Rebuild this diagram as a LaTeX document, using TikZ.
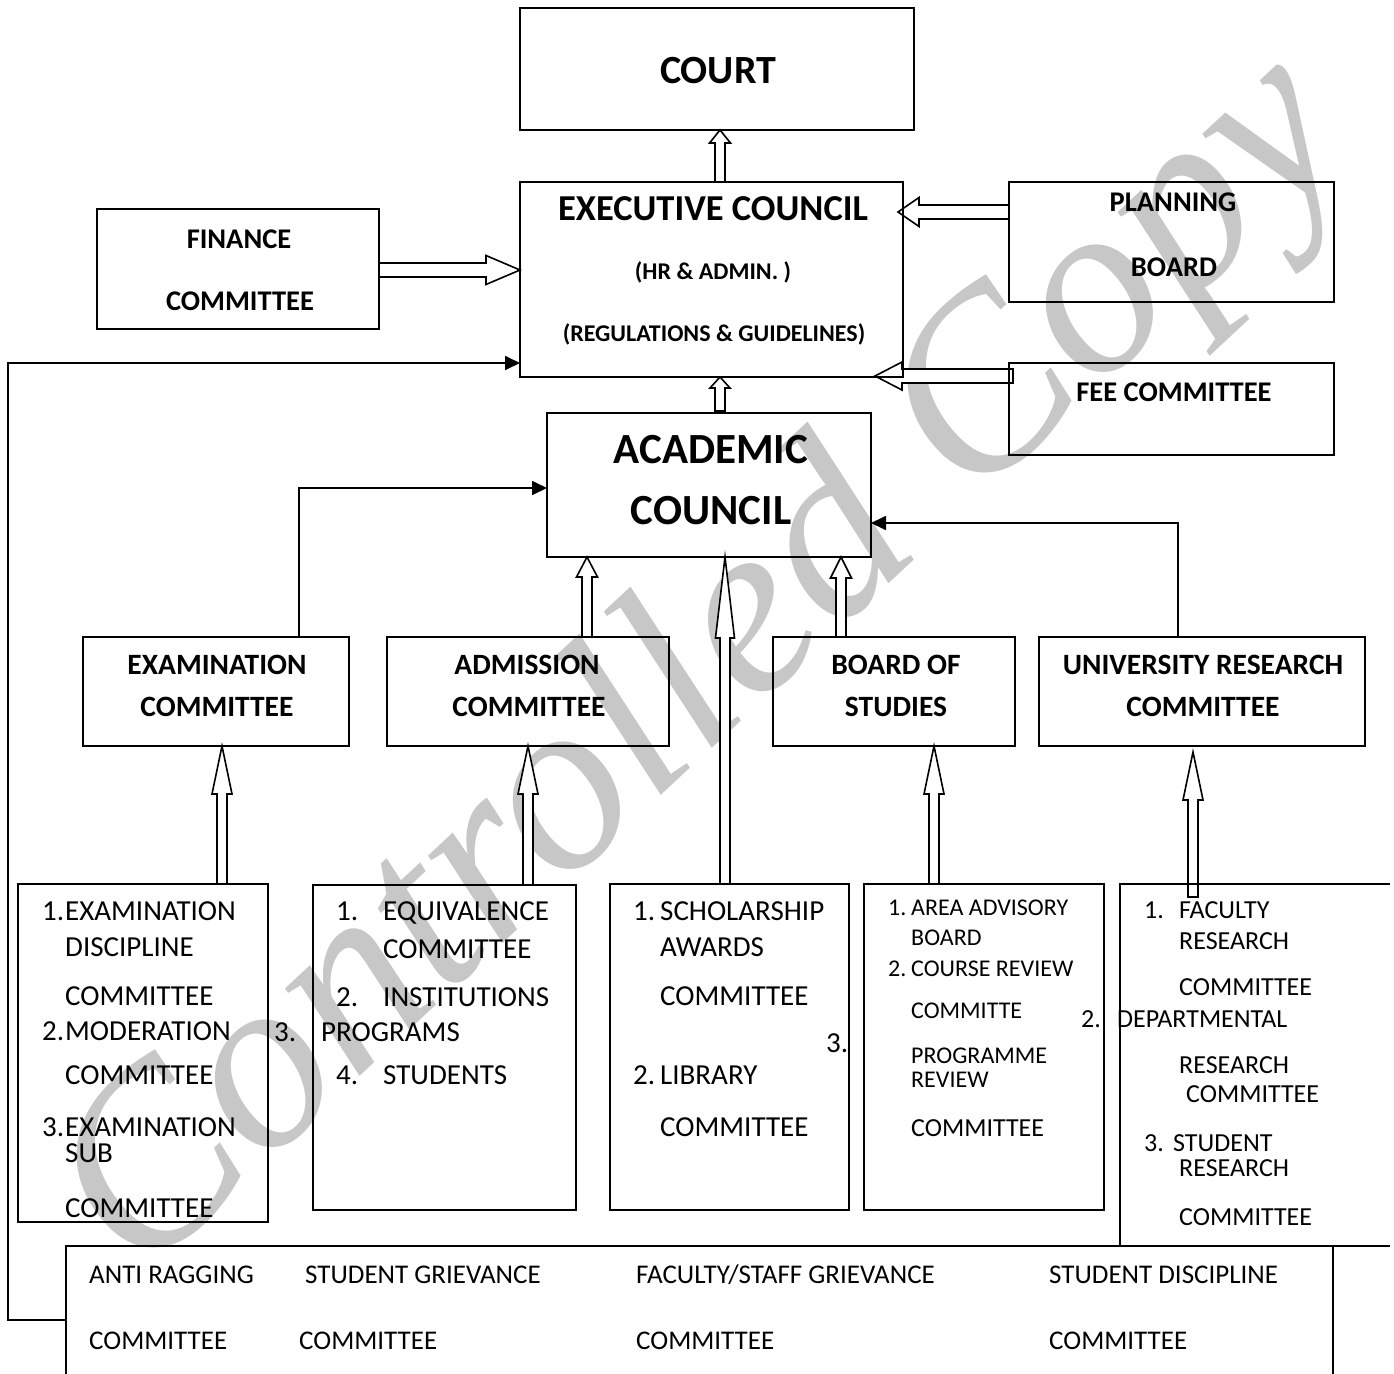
\documentclass[tikz,border=0pt]{standalone}
\usepackage{fontspec}
\setmainfont{Carlito}
\newfontfamily\markfont{Liberation Serif}
\usetikzlibrary{arrows.meta,calc}
\pgfdeclarelayer{back}
\pgfsetlayers{back,main}
\newcommand{\fs}[1]{\fontsize{#1}{#1}\selectfont}
% hollow block arrow: tail, tip, head length, head half width, shaft half width
\newcommand{\blockarrow}[5]{%
  \path ($#2!#3!#1$) coordinate (ba-base);
  \draw[blk] ($#1!#5!90:#2$) -- ($(ba-base)!#5!90:#2$) -- ($(ba-base)!#4!90:#2$) -- #2
    -- ($(ba-base)!#4!-90:#2$) -- ($(ba-base)!#5!-90:#2$) -- ($#1!#5!-90:#2$) -- cycle;}
\tikzset{
  box/.style={draw, line width=1.8pt, inner sep=0pt, outer sep=0pt, rectangle},
  frame/.style={inner sep=0pt, outer sep=0pt, rectangle},
  edge/.style={line width=1.8pt},
  blk/.style={draw, fill=white, line width=1.6pt, line join=miter},
  link/.style={draw, line width=1.8pt, -{Triangle[length=15pt,width=14pt]}},
  tl/.style={inner sep=0pt, anchor=base west},
  tc/.style={inner sep=0pt, anchor=base},
  wm/.style={inner sep=0pt, text=black!22, font=\markfont\itshape\fs{250}},
}
\begin{document}
\begin{tikzpicture}[x=1pt,y=-1pt]
\useasboundingbox (0,0) rectangle (1394,1373);

% boxes
\node[box, minimum width=394pt, minimum height=122pt] (court) at (717,69) {};
\node[box, minimum width=383pt, minimum height=195pt] (exec) at (711.5,279.5) {};
\node[box, minimum width=282pt, minimum height=120pt] (finance) at (238,269) {};
\node[box, minimum width=325pt, minimum height=120pt] (planning) at (1171.5,242) {};
\node[box, minimum width=325pt, minimum height=92pt] (fee) at (1171.5,409) {};
\node[box, minimum width=324pt, minimum height=144pt] (acad) at (709,485) {};
\node[box, minimum width=266pt, minimum height=109pt] (exam) at (216,691.5) {};
\node[box, minimum width=282pt, minimum height=109pt] (adm) at (528,691.5) {};
\node[box, minimum width=242pt, minimum height=109pt] (board) at (894,691.5) {};
\node[box, minimum width=326pt, minimum height=109pt] (univ) at (1202,691.5) {};
\node[box, minimum width=250pt, minimum height=338pt] (lone) at (143,1053) {};
\node[box, minimum width=263pt, minimum height=325pt] (ltwo) at (444.5,1047.5) {};
\node[box, minimum width=239pt, minimum height=326pt] (lthree) at (729.5,1047) {};
\node[box, minimum width=240pt, minimum height=326pt] (lfour) at (984,1047) {};
\node[frame, minimum width=270pt, minimum height=362pt] (lfive) at (1255,1065) {};
\node[frame, minimum width=1324pt, minimum height=140pt] (misc) at (728,1316) {};
\draw[edge] (lfive.north east) -- (lfive.north west) -- (lfive.south west);
\draw[edge] (misc.south west) -- (misc.north west) -- (misc.north east);
\draw[edge] ([xshift=-57pt]misc.north east) -- ([xshift=-57pt]misc.south east);

% connector end points
\coordinate (ct-in) at ([xshift=3pt]court.south);
\coordinate (ct-out) at (ct-in |- exec.north);
\coordinate (ec-in) at ([xshift=8.5pt]exec.south);
\path (ec-in |- acad.north) ++(0,-2) coordinate (ec-out);
\coordinate (fc-out) at ([yshift=-1pt]finance.east);
\coordinate (fc-in) at (fc-out -| exec.west);
\coordinate (pb-out) at ([yshift=30pt]planning.west);
\path (pb-out -| exec.east) ++(-5,0) coordinate (pb-in);
\coordinate (fee-out) at ([xshift=4pt,yshift=33pt]fee.west);
\path (fee-out -| exec.east) ++(-28,0) coordinate (fee-in);
\coordinate (ad-in) at ([xshift=-122pt]acad.south);
\coordinate (ad-out) at (ad-in |- adm.north);
\coordinate (sc-in) at ([xshift=16pt]acad.south);
\coordinate (sc-out) at (sc-in |- lthree.north);
\coordinate (bs-in) at ([xshift=132pt]acad.south);
\coordinate (bs-out) at (bs-in |- board.north);
\coordinate (l1-in) at ([xshift=6pt]exam.south);
\coordinate (l1-out) at (l1-in |- lone.north);
\coordinate (l2-in) at (adm.south);
\coordinate (l2-out) at (l2-in |- ltwo.north);
\coordinate (l4-in) at ([xshift=40pt]board.south);
\coordinate (l4-out) at (l4-in |- lfour.north);
\path ([xshift=-9pt]univ.south) ++(0,6) coordinate (l5-in);
\path (l5-in |- lfive.north) ++(0,13) coordinate (l5-out);

\begin{pgfonlayer}{back}
  \node[wm, rotate=43, anchor=base west] (mark) at (140,1282) {Controlled Copy};
  \blockarrow{(ct-out)}{(ct-in)}{13pt}{10.5pt}{5pt}
  \blockarrow{(ec-out)}{(ec-in)}{11pt}{10pt}{5pt}
  \blockarrow{(fc-out)}{(fc-in)}{34pt}{14.5pt}{7pt}
  \blockarrow{(pb-out)}{(pb-in)}{21pt}{14.5pt}{7pt}
  \blockarrow{(fee-out)}{(fee-in)}{27pt}{14pt}{7pt}
  \blockarrow{(ad-out)}{(ad-in)}{20pt}{10.5pt}{5pt}
  \blockarrow{(sc-out)}{(sc-in)}{81pt}{9.5pt}{5pt}
  \blockarrow{(bs-out)}{(bs-in)}{21pt}{10.5pt}{5pt}
  \blockarrow{(l1-out)}{(l1-in)}{48pt}{10pt}{5pt}
  \blockarrow{(l2-out)}{(l2-in)}{48pt}{10pt}{5pt}
  \blockarrow{(l4-out)}{(l4-in)}{48pt}{10pt}{5pt}
  \blockarrow{(l5-out)}{(l5-in)}{48pt}{10pt}{5pt}
\end{pgfonlayer}

% plain connectors
\draw[link] ([xshift=83pt]exam.north) |- ([yshift=-3pt]acad.west);
\draw[link] ([xshift=-24pt]univ.north) |- ([yshift=-38pt]acad.east);
\draw[link] ([yshift=-4pt]misc.west) -- ++(-58,0) |- ([yshift=-83.5pt]exec.west);

% upper box texts
\node[tc, font=\fs{40}\bfseries] (court-t) at (718,83) {COURT};
\node[tc, font=\fs{36.5}\bfseries] (exec-t1) at (713,220) {EXECUTIVE COUNCIL};
\node[tc, font=\fs{24}\bfseries] (exec-t2) at (713,279) {(HR \& ADMIN. )};
\node[tc, font=\fs{24}\bfseries] (exec-t3) at (714,341) {(REGULATIONS \& GUIDELINES)};
\node[tc, font=\fs{28.5}\bfseries] (fin-t1) at (239,248) {FINANCE};
\node[tc, font=\fs{28.5}\bfseries] (fin-t2) at (240,310) {COMMITTEE};
\node[tc, font=\fs{28.5}\bfseries] (pb-t1) at (1173,211) {PLANNING};
\node[tc, font=\fs{28.5}\bfseries] (pb-t2) at (1174,276) {BOARD};
\node[tc, font=\fs{28.5}\bfseries] (fee-t) at (1174,401) {FEE COMMITTEE};
\node[tc, font=\fs{43}\bfseries] (ac-t1) at (711,463.5) {ACADEMIC};
\node[tc, font=\fs{43}\bfseries] (ac-t2) at (711,524.5) {COUNCIL};
\node[tc, font=\fs{29.5}\bfseries] (ex-t1) at (217,674) {EXAMINATION};
\node[tc, font=\fs{29.5}\bfseries] (ex-t2) at (217,716) {COMMITTEE};
\node[tc, font=\fs{29.5}\bfseries] (ad-t1) at (527,674) {ADMISSION};
\node[tc, font=\fs{29.5}\bfseries] (ad-t2) at (529,716) {COMMITTEE};
\node[tc, font=\fs{29.5}\bfseries] (bs-t1) at (896,674) {BOARD OF};
\node[tc, font=\fs{29.5}\bfseries] (bs-t2) at (896,716) {STUDIES};
\node[tc, font=\fs{29.5}\bfseries] (ur-t1) at (1203,674) {UNIVERSITY RESEARCH};
\node[tc, font=\fs{29.5}\bfseries] (ur-t2) at (1203,716) {COMMITTEE};

% examination list
\begin{scope}[every node/.style={tl, font=\fs{29}}]
\node (a1n) at (42,920) {1.};  \node (a1) at (65,920) {EXAMINATION};
\node (a1b) at (65,956) {DISCIPLINE};
\node (a1c) at (65,1005) {COMMITTEE};
\node (a2n) at (42,1040) {2.}; \node (a2) at (65,1040) {MODERATION};
\node (a2b) at (65,1084) {COMMITTEE};
\node (a3n) at (42,1136) {3.}; \node (a3) at (65,1136) {EXAMINATION};
\node (a3b) at (65,1162) {SUB};
\node (a3c) at (65,1217) {COMMITTEE};
% admission list
\node (b1n) at (336,920) {1.}; \node (b1) at (383,920) {EQUIVALENCE};
\node (b1b) at (383,958) {COMMITTEE};
\node (b2n) at (336,1006) {2.}; \node (b2) at (383,1006) {INSTITUTIONS};
\node (b3n) at (274,1041) {3.}; \node (b3) at (321,1041) {PROGRAMS};
\node (b4n) at (336,1084) {4.}; \node (b4) at (383,1084) {STUDENTS};
% scholarship list
\node (c1n) at (633,920) {1.}; \node (c1) at (660,920) {SCHOLARSHIP};
\node (c1b) at (660,956) {AWARDS};
\node (c1c) at (660,1005) {COMMITTEE};
\node (c3n) at (826,1052) {3.};
\node (c2n) at (633,1084) {2.}; \node (c2) at (660,1084) {LIBRARY};
\node (c2b) at (660,1136) {COMMITTEE};
\end{scope}

% board of studies list
\begin{scope}[every node/.style={tl, font=\fs{24}}]
\node (d1n) at (888,915) {1.}; \node (d1) at (911,915) {AREA ADVISORY};
\node (d1b) at (911,945) {BOARD};
\node (d2n) at (888,976) {2.}; \node (d2) at (911,976) {COURSE REVIEW};
\node (d2b) at (911,1018) {COMMITTE};
\node (d3) at (911,1063) {PROGRAMME};
\node (d3b) at (911,1087) {REVIEW};
\node[font=\fs{26}] (d3c) at (911,1136) {COMMITTEE};
\end{scope}

% research list
\begin{scope}[every node/.style={tl, font=\fs{26}}]
\node (e1n) at (1144,918) {1.}; \node (e1) at (1179,918) {FACULTY};
\node (e1b) at (1179,949) {RESEARCH};
\node (e1c) at (1179,995) {COMMITTEE};
\node (e2n) at (1081,1027) {2.}; \node (e2) at (1117,1027) {DEPARTMENTAL};
\node (e2b) at (1179,1073) {RESEARCH};
\node (e2c) at (1186,1102) {COMMITTEE};
\node (e3n) at (1144,1151) {3.}; \node (e3) at (1173,1151) {STUDENT};
\node (e3b) at (1179,1176) {RESEARCH};
\node (e3c) at (1179,1225) {COMMITTEE};
\end{scope}

% standing committees
\begin{scope}[every node/.style={tl, font=\fs{27}}]
\node (f1) at (89,1283) {ANTI RAGGING};        \node (f1b) at (89,1349) {COMMITTEE};
\node (f2) at (305,1283) {STUDENT GRIEVANCE};  \node (f2b) at (299,1349) {COMMITTEE};
\node (f3) at (636,1283) {FACULTY/STAFF GRIEVANCE}; \node (f3b) at (636,1349) {COMMITTEE};
\node (f4) at (1049,1283) {STUDENT DISCIPLINE}; \node (f4b) at (1049,1349) {COMMITTEE};
\end{scope}
\end{tikzpicture}
\end{document}
